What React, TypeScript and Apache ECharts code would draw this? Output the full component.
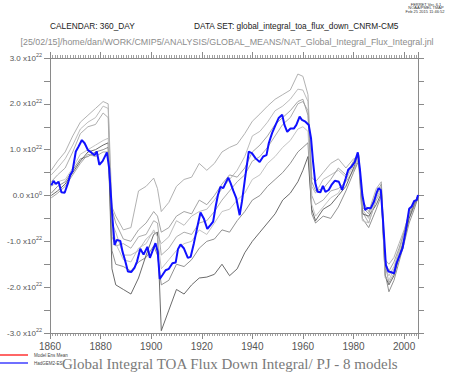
import React, { useEffect, useRef } from "react";
import * as echarts from "echarts";

// Blue model (HadGEM2) – values in units of 1e22
const blueYears = [
  1860.5, 1861.4, 1862.3, 1863.4, 1864.5, 1865.8, 1867.1, 1868.0, 1868.9, 1870.2,
  1871.3, 1872.6, 1873.7, 1875.0, 1876.3, 1877.6, 1878.5, 1879.5, 1880.8, 1882.5,
  1883.4, 1884.5, 1885.5, 1886.4, 1887.8, 1888.7, 1889.8, 1890.8, 1892.1, 1893.4,
  1894.4, 1895.7, 1897.0, 1898.5, 1899.5, 1900.4, 1901.7, 1902.6, 1903.4, 1904.4,
  1905.7, 1907.0, 1908.4, 1909.7, 1910.6, 1911.6, 1912.9, 1914.5, 1915.6, 1916.9,
  1918.2, 1919.5, 1920.8, 1922.2, 1923.5, 1924.5, 1925.5, 1926.4, 1927.4, 1928.5,
  1929.4, 1930.5, 1931.4, 1932.5, 1933.6, 1935.0, 1935.9, 1937.3, 1938.6, 1939.9,
  1941.3, 1942.9, 1944.3, 1945.6, 1946.5, 1947.8, 1949.2, 1950.4, 1951.8, 1952.7,
  1953.8, 1955.1, 1956.4, 1957.4, 1958.7, 1959.6, 1961.0, 1962.3, 1963.2, 1964.0,
  1964.9, 1965.8, 1966.9, 1967.9, 1968.9, 1970.2, 1971.3, 1972.6, 1974.2, 1975.5,
  1976.9, 1977.9, 1979.2, 1980.5, 1981.7, 1982.5, 1983.5, 1984.6, 1985.5, 1986.8,
  1988.1, 1989.1, 1989.9, 1990.8, 1991.7, 1992.8, 1993.8, 1994.7, 1996.0, 1997.0,
  1998.0, 1999.4, 2000.7, 2002.0, 2003.0, 2004.0, 2005.0, 2005.5,
];
const blueValues = [
  0.22, 0.32, 0.25, 0.3, 0.07, 0.06, 0.27, 0.45, 0.53, 0.96,
  1.07, 1.21, 1.14, 0.99, 0.94, 0.88, 0.96, 0.67, 0.75, 0.94,
  0.59, -0.35, -1.08, -0.97, -0.99, -1.23, -1.44, -1.66, -1.67, -1.58,
  -1.44, -1.16, -1.29, -1.12, -1.36, -1.23, -1.04, -1.23, -1.82, -1.74,
  -1.63, -1.6, -1.48, -1.46, -1.17, -1.07, -1.15, -1.36, -1.34, -1.04,
  -0.7, -0.37, -0.5, -0.73, -0.64, -0.57, -0.24, 0.01, 0.19, 0.16,
  0.27, 0.39, 0.27, 0.1, -0.05, -0.43, -0.13, 0.45, 0.96, 0.92,
  0.81, 0.73, 0.85, 0.88, 1.14, 1.36, 1.54, 1.69, 1.76, 1.54,
  1.39, 1.46, 1.46, 1.54, 1.72, 1.65, 1.61, 1.54, 1.25, 0.74,
  0.27, 0.08, 0.07, 0.21, 0.08, 0.12, 0.23, 0.32, 0.3, 0.12,
  0.37, 0.56, 0.63, 0.73, 0.94, 0.59, 0.01, -0.32, -0.27, -0.28,
  -0.13, 0.05, 0.16, 0.12, -0.57, -1.52, -1.66, -1.67, -1.7, -1.48,
  -1.34, -1.15, -0.75, -0.29, -0.24, -0.12, -0.1, 0.01,
];

// Other models (gray lines)
const grayYears = [
  1860.5, 1863, 1866, 1869, 1872, 1875, 1878, 1881, 1883, 1884.5,
  1886, 1889, 1892, 1895, 1898, 1901, 1902.5, 1904, 1907, 1910,
  1913, 1916, 1919, 1922, 1925, 1928, 1931, 1934, 1937, 1940,
  1943, 1946, 1949, 1952, 1955, 1958, 1960, 1962, 1963.5, 1965,
  1968, 1971, 1974, 1977, 1980, 1982, 1983.5, 1986, 1989, 1991,
  1992.5, 1994, 1996, 1998, 2000, 2002, 2004, 2005.5,
];
const model1 = [
  0.55, 0.75, 0.95, 1.3, 1.6, 1.75, 1.9, 2.05, 2.0, -0.25,
  -0.45, -0.75, -0.7, 0.1, 0.2, 0.38, 0.15, -0.35, -0.15, 0.2,
  0.35, 0.4, 0.7, 0.55, 0.7, 0.95, 1.05, 1.12, 1.35, 1.62,
  1.78, 1.95, 2.1, 2.2, 2.3, 2.65, 2.6, 2.2, 0.4, 0.3,
  0.5, 0.7, 0.8, 0.6, 0.8, 0.85, -0.1, -0.35, 0.15, 0.3,
  -1.4, -1.5, -1.35, -1.05, -0.75, -0.4, -0.2, 0.0,
];
const model2 = [
  0.45, 0.6, 0.8, 1.1, 1.45, 1.6, 1.7, 1.95, 1.9, -0.6,
  -0.8, -1.3, -1.3, -1.2, -0.95, -0.8, -0.85, -1.05, -0.9, -0.55,
  -0.65, -0.45, -0.35, -0.3, -0.1, 0.15, 0.35, 0.55, 0.85, 1.3,
  1.4, 1.6, 1.85, 1.95, 2.1, 2.32, 2.3, 2.05, 0.2, 0.05,
  0.35, 0.45, 0.55, 0.4, 0.7, 0.88, -0.3, -0.5, 0.0, 0.2,
  -1.6, -1.75, -1.55, -1.2, -0.85, -0.45, -0.2, 0.0,
];
const model3 = [
  0.3, 0.45, 0.6, 0.95, 1.35, 1.5, 1.55, 1.8, 1.7, -0.9,
  -1.1, -1.05, -1.15, -0.9, -0.85, -0.55, -0.6, -1.3, -1.15, -0.9,
  -0.8, -0.85, -0.6, -0.55, -0.35, -0.1, 0.1, 0.3, 0.45, 0.75,
  0.85, 1.05, 1.3, 1.55, 1.7, 2.0, 2.05, 1.85, 0.0, -0.2,
  -0.1, 0.1, 0.15, 0.3, 0.55, 0.8, -0.35, -0.6, -0.1, 0.1,
  -1.5, -1.9, -1.7, -1.3, -0.95, -0.5, -0.25, -0.05,
];
const model4 = [
  0.05, 0.2, 0.3, 0.55, 0.8, 0.85, 0.95, 1.0, 1.05, -1.2,
  -1.5, -1.55, -1.65, -1.45, -1.35, -1.1, -1.3, -1.95, -1.85, -1.5,
  -1.55, -1.4, -1.15, -1.0, -0.95, -0.75, -0.8, -0.55, -0.35, -0.1,
  0.0, 0.2, 0.35, 0.5, 0.7, 0.95, 1.05, 1.15, -0.4, -0.6,
  -0.45, -0.5, -0.25, 0.1, 0.5, 0.75, -0.5, -0.7, -0.3, 0.0,
  -1.7, -2.1, -1.85, -1.45, -1.05, -0.6, -0.3, -0.05,
];
const model5 = [
  0.0, 0.1, 0.25, 0.5, 0.75, 0.95, 1.0, 1.1, 1.15, -1.6,
  -1.95, -2.05, -2.15, -1.8, -1.3, -0.85, -0.8, -2.95, -2.5, -2.05,
  -2.15, -1.95, -1.8, -1.78, -1.72, -1.5, -1.75, -1.6, -1.25, -1.0,
  -0.8, -0.6, -0.4, -0.1, 0.05, 0.3, 0.55, 0.85, -0.3, -0.55,
  -0.3, -0.2, 0.0, 0.2, 0.6, 0.9, -0.4, -0.45, -0.2, 0.05,
  -1.75, -1.95, -1.75, -1.35, -0.95, -0.5, -0.2, 0.0,
];
const model6 = [
  0.2, 0.3, 0.35, 0.6, 0.9, 1.0, 1.1, 1.2, 1.25, -0.5,
  -1.05, -1.4, -1.45, -1.15, -1.05, -0.75, -0.9, -1.6, -1.4, -1.2,
  -1.05, -1.0, -0.75, -0.85, -0.6, -0.35, -0.3, -0.1, 0.05, 0.35,
  0.45, 0.7, 0.85, 1.05, 1.2, 1.45, 1.5, 1.4, -0.2, -0.45,
  -0.25, -0.05, 0.05, 0.35, 0.65, 0.85, -0.55, -0.6, -0.05, 0.15,
  -1.8, -1.85, -1.6, -1.25, -0.8, -0.35, -0.15, 0.0,
];
const model7 = [
  -0.05, 0.05, 0.2, 0.45, 0.7, 0.9, 0.85, 0.95, 0.95, -0.3,
  -0.6, -0.95, -1.0, -0.75, -0.6, -0.35, -0.45, -0.8, -0.7, -0.45,
  -0.35, -0.4, -0.1, -0.2, 0.0, 0.25, 0.45, 0.4, 0.6, 0.95,
  1.1, 1.3, 1.55, 1.7, 1.85, 2.05, 2.1, 1.75, 0.3, 0.1,
  0.15, 0.35, 0.6, 0.45, 0.75, 0.9, -0.25, -0.4, 0.05, 0.25,
  -1.45, -1.65, -1.45, -1.15, -0.8, -0.4, -0.18, 0.0,
];

const grayModels = [model1, model2, model3, model4, model5, model6, model7];
const grayColors = ["#a8a8a8", "#b4b4b4", "#a4a4a4", "#858585", "#5a5a5a", "#bcbcbc", "#9a9a9a"];

const xTickYears = [1860, 1880, 1900, 1920, 1940, 1960, 1980, 2000];
const yLabelExponents = { zero: "0", other: "22" };

const AXIS_COLOR = "#8a8a8a";

export default function App() {
  const ref = useRef<HTMLDivElement>(null);

  useEffect(() => {
    const chart = echarts.init(ref.current as HTMLDivElement, null, { renderer: "svg" });

    const zip = (xs: number[], ys: number[]) => xs.map((x, i) => [x, ys[i]]);

    const grayLines = grayModels.map((vals, i) => ({
      type: "line",
      data: zip(grayYears, vals),
      showSymbol: false,
      symbol: "none",
      lineStyle: { color: grayColors[i], width: 0.9 },
      z: 2,
      silent: true,
    }));

    const yLabelFormatter = (v: number) => {
      if (Math.abs(v - Math.round(v)) > 1e-6) return "";
      const exp = Math.abs(v) < 1e-9 ? yLabelExponents.zero : yLabelExponents.other;
      const num = (Math.abs(v) < 1e-9 ? 0 : v).toFixed(1);
      return `{n|${num} x10}{s|${exp}}`;
    };

    const xMinor = { show: true, splitNumber: 20, length: 3, lineStyle: { color: AXIS_COLOR, width: 0.8 } };

    chart.setOption({
      animation: false,
      backgroundColor: "#ffffff",
      grid: { left: 50, top: 58, width: 368, height: 275, containLabel: false },
      xAxis: [
        {
          type: "value",
          min: 1860,
          max: 2005.5,
          interval: 20,
          position: "bottom",
          axisLine: { show: true, onZero: false, lineStyle: { color: AXIS_COLOR, width: 1 } },
          axisTick: { show: true, length: 6, lineStyle: { color: AXIS_COLOR } },
          minorTick: xMinor,
          splitLine: { show: false },
          axisLabel: {
            show: true,
            margin: 8,
            fontSize: 10,
            color: "#555555",
            fontFamily: "Liberation Sans",
            showMaxLabel: false,
            formatter: (v: number) => (xTickYears.includes(v) ? String(v) : ""),
          },
        },
        {
          type: "value",
          min: 1860,
          max: 2005.5,
          interval: 20,
          position: "top",
          axisLine: { show: true, onZero: false, lineStyle: { color: AXIS_COLOR, width: 1 } },
          axisTick: { show: true, length: 6, lineStyle: { color: AXIS_COLOR } },
          minorTick: xMinor,
          splitLine: { show: false },
          axisLabel: { show: false },
        },
      ],
      yAxis: [
        {
          type: "value",
          min: -3,
          max: 3,
          interval: 0.5,
          position: "left",
          axisLine: { show: true, onZero: false, lineStyle: { color: AXIS_COLOR, width: 1 } },
          axisTick: { show: true, length: 6, lineStyle: { color: AXIS_COLOR } },
          splitLine: { show: false },
          axisLabel: {
            show: true,
            margin: 8,
            color: "#555555",
            fontFamily: "Liberation Sans",
            formatter: yLabelFormatter,
            rich: {
              n: { fontSize: 8, lineHeight: 12, color: "#555555", fontFamily: "Liberation Sans" },
              s: { fontSize: 5.5, lineHeight: 6, verticalAlign: "top", color: "#555555", fontFamily: "Liberation Sans" },
            },
          },
        },
        {
          type: "value",
          min: -3,
          max: 3,
          interval: 0.5,
          position: "right",
          axisLine: { show: true, onZero: false, lineStyle: { color: AXIS_COLOR, width: 1 } },
          axisTick: { show: true, length: 6, lineStyle: { color: AXIS_COLOR } },
          splitLine: { show: false },
          axisLabel: { show: false },
        },
      ],
      series: [
        ...grayLines,
        {
          type: "line",
          name: "HadGEM2-ES",
          data: zip(blueYears, blueValues),
          showSymbol: false,
          symbol: "none",
          lineStyle: { color: "#1010ff", width: 2 },
          z: 5,
          silent: true,
        },
      ],
      graphic: [
        // top-right stamp
        {
          type: "text", x: 426, y: 4,
          style: { text: "FERRET Ver. 6.1", fontSize: 4, fill: "#333", fontFamily: "Liberation Sans", align: "center", verticalAlign: "middle" },
        },
        {
          type: "text", x: 426, y: 7.5,
          style: { text: "NOAA/PMEL TMAP", fontSize: 4, fill: "#333", fontFamily: "Liberation Sans", align: "center", verticalAlign: "middle" },
        },
        {
          type: "text", x: 425, y: 11,
          style: { text: "Feb 25 2015 11:46:52", fontSize: 4, fill: "#333", fontFamily: "Liberation Sans", align: "center", verticalAlign: "middle" },
        },
        // headers
        {
          type: "text", x: 50, y: 26,
          style: { text: "CALENDAR: 360_DAY", fontSize: 8.3, fill: "#222", fontFamily: "Liberation Sans", verticalAlign: "middle" },
        },
        {
          type: "text", x: 194, y: 26,
          style: { text: "DATA SET: global_integral_toa_flux_down_CNRM-CM5", fontSize: 8.3, fill: "#222", fontFamily: "Liberation Sans", verticalAlign: "middle" },
        },
        {
          type: "text", x: 20.5, y: 41.5,
          style: {
            text: "[25/02/15]/home/dan/WORK/CMIP5/ANALYSIS/GLOBAL_MEANS/NAT_Global_Integral_Flux_Integral.jnl",
            fontSize: 8.9, fill: "#8c8c8c", fontFamily: "Liberation Sans", verticalAlign: "middle",
          },
        },
        // legend
        { type: "line", shape: { x1: 0, y1: 355, x2: 28, y2: 355 }, style: { stroke: "#ff0000", lineWidth: 1.2 } },
        {
          type: "text", x: 34, y: 355,
          style: { text: "Model Ens Mean", fontSize: 4.5, fill: "#444", fontFamily: "Liberation Sans", verticalAlign: "middle" },
        },
        { type: "line", shape: { x1: 0, y1: 363, x2: 28, y2: 363 }, style: { stroke: "#1010ff", lineWidth: 1.2 } },
        {
          type: "text", x: 34, y: 363,
          style: { text: "HadGEM2-ES", fontSize: 4.5, fill: "#444", fontFamily: "Liberation Sans", verticalAlign: "middle" },
        },
        // bottom title
        {
          type: "text", x: 62, y: 363.5,
          style: {
            text: "Global Integral TOA Flux Down Integral/ PJ - 8 models",
            fontSize: 15, fill: "#7a7a7a", fontFamily: "Liberation Serif", verticalAlign: "middle",
          },
        },
      ],
    });

    return () => chart.dispose();
  }, []);

  return (
    <div
      ref={ref}
      style={{ position: "absolute", left: 0, top: 0, width: 449, height: 372, background: "#fff" }}
    />
  );
}
